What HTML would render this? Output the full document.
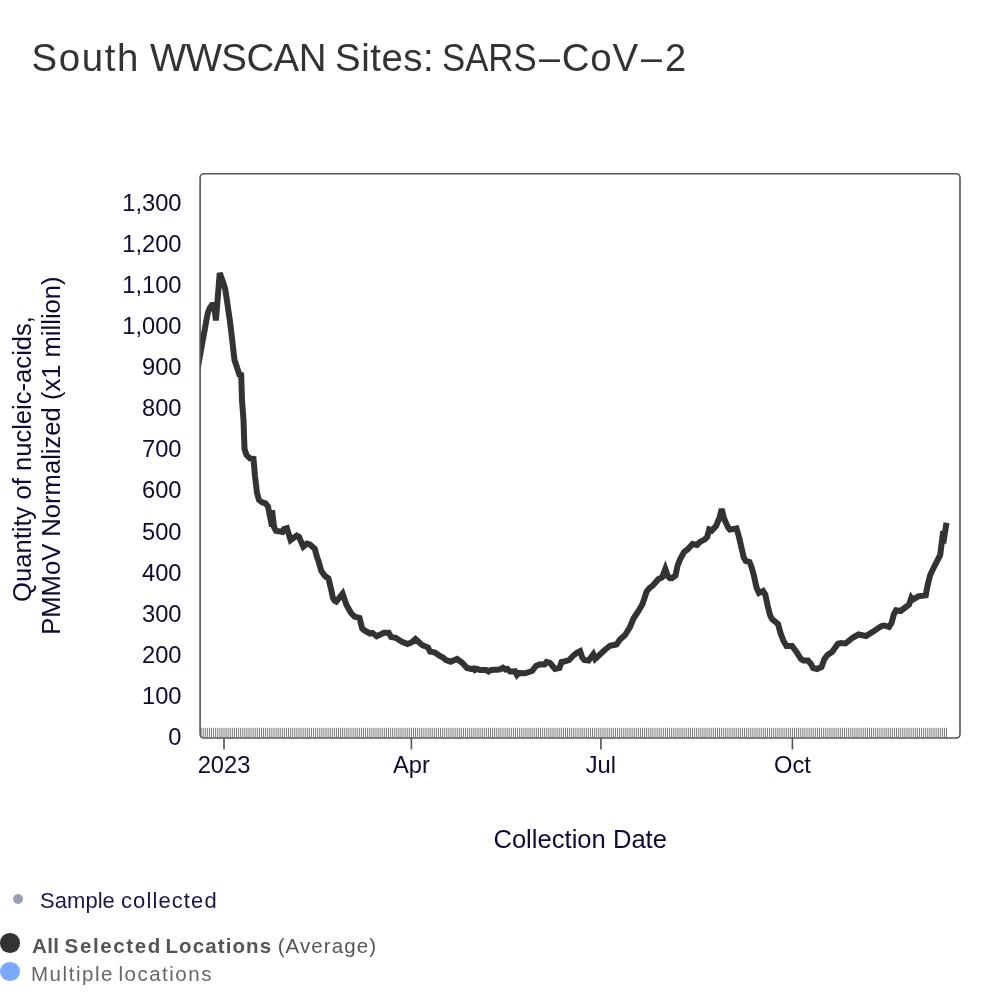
<!DOCTYPE html>
<html lang="en">
<head>
<meta charset="utf-8">
<title>South WWSCAN Sites: SARS–CoV–2</title>
<style>
html,body{margin:0;padding:0;background:#fff;}
body{width:1000px;height:1002px;position:relative;overflow:hidden;font-family:"Liberation Sans",sans-serif;}
h1{position:absolute;left:0;top:36.4px;margin:0;font-weight:400;font-size:38.4px;line-height:44px;color:#333;white-space:nowrap;width:1000px;height:44px;}
h1 span{position:absolute;top:0;transform-origin:0 50%;display:block;}
svg{position:absolute;left:0;top:0;}
svg text{font-family:"Liberation Sans",sans-serif;fill:#0f0b33;}
.lbl text{font-size:23.7px;}
.ttl text{font-size:25.6px;}
.legend{position:absolute;left:0;top:0;width:1000px;}
.row{position:absolute;white-space:nowrap;}
.dot{position:absolute;border-radius:50%;}
.w{position:absolute;top:0;}
</style>
</head>
<body>
<h1><span style="left:31.5px;letter-spacing:1.65px;">South</span> <span style="left:150.0px;letter-spacing:-0.55px;">WWSCAN</span> <span style="left:335.0px;letter-spacing:0.55px;">Sites:</span> <span style="left:442.1px;transform:scaleX(0.905);">SARS</span><span style="left:538.8px;transform:scaleX(0.98);">–</span><span style="left:561.7px;letter-spacing:0.9px;">CoV</span><span style="left:641.0px;transform:scaleX(0.98);">–</span><span style="left:665.1px;transform:scaleX(0.99);">2</span></h1>
<svg width="1000" height="1002" viewBox="0 0 1000 1002">
<defs><clipPath id="plotclip"><rect x="200" y="174" width="760" height="564"/></clipPath></defs>
<path d="M201.10,727.8V737.5M203.18,727.8V737.5M205.26,727.8V737.5M207.34,727.8V737.5M209.42,727.8V737.5M211.51,727.8V737.5M213.59,727.8V737.5M215.67,727.8V737.5M217.75,727.8V737.5M219.84,727.8V737.5M221.92,727.8V737.5M224.00,727.8V737.5M226.08,727.8V737.5M228.16,727.8V737.5M230.25,727.8V737.5M232.33,727.8V737.5M234.41,727.8V737.5M236.49,727.8V737.5M238.58,727.8V737.5M240.66,727.8V737.5M242.74,727.8V737.5M244.82,727.8V737.5M246.90,727.8V737.5M248.99,727.8V737.5M251.07,727.8V737.5M253.15,727.8V737.5M255.23,727.8V737.5M257.32,727.8V737.5M259.40,727.8V737.5M261.48,727.8V737.5M263.56,727.8V737.5M265.64,727.8V737.5M267.73,727.8V737.5M269.81,727.8V737.5M271.89,727.8V737.5M273.97,727.8V737.5M276.05,727.8V737.5M278.14,727.8V737.5M280.22,727.8V737.5M282.30,727.8V737.5M284.38,727.8V737.5M286.47,727.8V737.5M288.55,727.8V737.5M290.63,727.8V737.5M292.71,727.8V737.5M294.79,727.8V737.5M296.88,727.8V737.5M298.96,727.8V737.5M301.04,727.8V737.5M303.12,727.8V737.5M305.21,727.8V737.5M307.29,727.8V737.5M309.37,727.8V737.5M311.45,727.8V737.5M313.53,727.8V737.5M315.62,727.8V737.5M317.70,727.8V737.5M319.78,727.8V737.5M321.86,727.8V737.5M323.95,727.8V737.5M326.03,727.8V737.5M328.11,727.8V737.5M330.19,727.8V737.5M332.27,727.8V737.5M334.36,727.8V737.5M336.44,727.8V737.5M338.52,727.8V737.5M340.60,727.8V737.5M342.68,727.8V737.5M344.77,727.8V737.5M346.85,727.8V737.5M348.93,727.8V737.5M351.01,727.8V737.5M353.10,727.8V737.5M355.18,727.8V737.5M357.26,727.8V737.5M359.34,727.8V737.5M361.42,727.8V737.5M363.51,727.8V737.5M365.59,727.8V737.5M367.67,727.8V737.5M369.75,727.8V737.5M371.84,727.8V737.5M373.92,727.8V737.5M376.00,727.8V737.5M378.08,727.8V737.5M380.16,727.8V737.5M382.25,727.8V737.5M384.33,727.8V737.5M386.41,727.8V737.5M388.49,727.8V737.5M390.58,727.8V737.5M392.66,727.8V737.5M394.74,727.8V737.5M396.82,727.8V737.5M398.90,727.8V737.5M400.99,727.8V737.5M403.07,727.8V737.5M405.15,727.8V737.5M407.23,727.8V737.5M409.32,727.8V737.5M411.40,727.8V737.5M413.48,727.8V737.5M415.56,727.8V737.5M417.64,727.8V737.5M419.73,727.8V737.5M421.81,727.8V737.5M423.89,727.8V737.5M425.97,727.8V737.5M428.05,727.8V737.5M430.14,727.8V737.5M432.22,727.8V737.5M434.30,727.8V737.5M436.38,727.8V737.5M438.47,727.8V737.5M440.55,727.8V737.5M442.63,727.8V737.5M444.71,727.8V737.5M446.79,727.8V737.5M448.88,727.8V737.5M450.96,727.8V737.5M453.04,727.8V737.5M455.12,727.8V737.5M457.21,727.8V737.5M459.29,727.8V737.5M461.37,727.8V737.5M463.45,727.8V737.5M465.53,727.8V737.5M467.62,727.8V737.5M469.70,727.8V737.5M471.78,727.8V737.5M473.86,727.8V737.5M475.95,727.8V737.5M478.03,727.8V737.5M480.11,727.8V737.5M482.19,727.8V737.5M484.27,727.8V737.5M486.36,727.8V737.5M488.44,727.8V737.5M490.52,727.8V737.5M492.60,727.8V737.5M494.68,727.8V737.5M496.77,727.8V737.5M498.85,727.8V737.5M500.93,727.8V737.5M503.01,727.8V737.5M505.10,727.8V737.5M507.18,727.8V737.5M509.26,727.8V737.5M511.34,727.8V737.5M513.42,727.8V737.5M515.51,727.8V737.5M517.59,727.8V737.5M519.67,727.8V737.5M521.75,727.8V737.5M523.84,727.8V737.5M525.92,727.8V737.5M528.00,727.8V737.5M530.08,727.8V737.5M532.16,727.8V737.5M534.25,727.8V737.5M536.33,727.8V737.5M538.41,727.8V737.5M540.49,727.8V737.5M542.58,727.8V737.5M544.66,727.8V737.5M546.74,727.8V737.5M548.82,727.8V737.5M550.90,727.8V737.5M552.99,727.8V737.5M555.07,727.8V737.5M557.15,727.8V737.5M559.23,727.8V737.5M561.32,727.8V737.5M563.40,727.8V737.5M565.48,727.8V737.5M567.56,727.8V737.5M569.64,727.8V737.5M571.73,727.8V737.5M573.81,727.8V737.5M575.89,727.8V737.5M577.97,727.8V737.5M580.05,727.8V737.5M582.14,727.8V737.5M584.22,727.8V737.5M586.30,727.8V737.5M588.38,727.8V737.5M590.47,727.8V737.5M592.55,727.8V737.5M594.63,727.8V737.5M596.71,727.8V737.5M598.79,727.8V737.5M600.88,727.8V737.5M602.96,727.8V737.5M605.04,727.8V737.5M607.12,727.8V737.5M609.21,727.8V737.5M611.29,727.8V737.5M613.37,727.8V737.5M615.45,727.8V737.5M617.53,727.8V737.5M619.62,727.8V737.5M621.70,727.8V737.5M623.78,727.8V737.5M625.86,727.8V737.5M627.95,727.8V737.5M630.03,727.8V737.5M632.11,727.8V737.5M634.19,727.8V737.5M636.27,727.8V737.5M638.36,727.8V737.5M640.44,727.8V737.5M642.52,727.8V737.5M644.60,727.8V737.5M646.68,727.8V737.5M648.77,727.8V737.5M650.85,727.8V737.5M652.93,727.8V737.5M655.01,727.8V737.5M657.10,727.8V737.5M659.18,727.8V737.5M661.26,727.8V737.5M663.34,727.8V737.5M665.42,727.8V737.5M667.51,727.8V737.5M669.59,727.8V737.5M671.67,727.8V737.5M673.75,727.8V737.5M675.84,727.8V737.5M677.92,727.8V737.5M680.00,727.8V737.5M682.08,727.8V737.5M684.16,727.8V737.5M686.25,727.8V737.5M688.33,727.8V737.5M690.41,727.8V737.5M692.49,727.8V737.5M694.58,727.8V737.5M696.66,727.8V737.5M698.74,727.8V737.5M700.82,727.8V737.5M702.90,727.8V737.5M704.99,727.8V737.5M707.07,727.8V737.5M709.15,727.8V737.5M711.23,727.8V737.5M713.32,727.8V737.5M715.40,727.8V737.5M717.48,727.8V737.5M719.56,727.8V737.5M721.64,727.8V737.5M723.73,727.8V737.5M725.81,727.8V737.5M727.89,727.8V737.5M729.97,727.8V737.5M732.05,727.8V737.5M734.14,727.8V737.5M736.22,727.8V737.5M738.30,727.8V737.5M740.38,727.8V737.5M742.47,727.8V737.5M744.55,727.8V737.5M746.63,727.8V737.5M748.71,727.8V737.5M750.79,727.8V737.5M752.88,727.8V737.5M754.96,727.8V737.5M757.04,727.8V737.5M759.12,727.8V737.5M761.21,727.8V737.5M763.29,727.8V737.5M765.37,727.8V737.5M767.45,727.8V737.5M769.53,727.8V737.5M771.62,727.8V737.5M773.70,727.8V737.5M775.78,727.8V737.5M777.86,727.8V737.5M779.95,727.8V737.5M782.03,727.8V737.5M784.11,727.8V737.5M786.19,727.8V737.5M788.27,727.8V737.5M790.36,727.8V737.5M792.44,727.8V737.5M794.52,727.8V737.5M796.60,727.8V737.5M798.68,727.8V737.5M800.77,727.8V737.5M802.85,727.8V737.5M804.93,727.8V737.5M807.01,727.8V737.5M809.10,727.8V737.5M811.18,727.8V737.5M813.26,727.8V737.5M815.34,727.8V737.5M817.42,727.8V737.5M819.51,727.8V737.5M821.59,727.8V737.5M823.67,727.8V737.5M825.75,727.8V737.5M827.84,727.8V737.5M829.92,727.8V737.5M832.00,727.8V737.5M834.08,727.8V737.5M836.16,727.8V737.5M838.25,727.8V737.5M840.33,727.8V737.5M842.41,727.8V737.5M844.49,727.8V737.5M846.58,727.8V737.5M848.66,727.8V737.5M850.74,727.8V737.5M852.82,727.8V737.5M854.90,727.8V737.5M856.99,727.8V737.5M859.07,727.8V737.5M861.15,727.8V737.5M863.23,727.8V737.5M865.32,727.8V737.5M867.40,727.8V737.5M869.48,727.8V737.5M871.56,727.8V737.5M873.64,727.8V737.5M875.73,727.8V737.5M877.81,727.8V737.5M879.89,727.8V737.5M881.97,727.8V737.5M884.05,727.8V737.5M886.14,727.8V737.5M888.22,727.8V737.5M890.30,727.8V737.5M892.38,727.8V737.5M894.47,727.8V737.5M896.55,727.8V737.5M898.63,727.8V737.5M900.71,727.8V737.5M902.79,727.8V737.5M904.88,727.8V737.5M906.96,727.8V737.5M909.04,727.8V737.5M911.12,727.8V737.5M913.21,727.8V737.5M915.29,727.8V737.5M917.37,727.8V737.5M919.45,727.8V737.5M921.53,727.8V737.5M923.62,727.8V737.5M925.70,727.8V737.5M927.78,727.8V737.5M929.86,727.8V737.5M931.95,727.8V737.5M934.03,727.8V737.5M936.11,727.8V737.5M938.19,727.8V737.5M940.27,727.8V737.5M942.36,727.8V737.5M944.44,727.8V737.5M946.52,727.8V737.5" stroke="#555" stroke-width="0.8" fill="none"/>
<g clip-path="url(#plotclip)"><path d="M196.5,376 L200,355.5 L202.8,340 L204.5,331 L206.1,322 L207.8,313 L209.8,308 L212,305 L214.2,304.9 L215.9,320.4 L219.75,273 L224,285 L225.4,290 L229.8,320 L232.2,340 L234.5,360 L237.5,369 L239.3,374.5 L241.2,375 L242,400 L243.5,420 L244,435 L244.5,449 L246.5,455 L250,458.5 L253.5,459 L255,476 L257,493 L259,500 L262.5,502.5 L265.5,503.3 L268,506.5 L272,526.3 L272.1,510.3 L274,527 L276,530.8 L282.5,532 L284,529 L286.9,528.2 L290.6,540.1 L296.7,535.5 L299,536.8 L303.25,546.6 L307,543.6 L309.75,544.4 L314.75,548.75 L317,557 L318.3,560.5 L321.3,571 L325,576 L328.5,578.5 L331.5,591 L332.8,597.5 L334.3,600.3 L336.3,601.6 L342.6,593.6 L346.5,605 L351,613 L354.5,616.5 L359.5,618 L362.2,628.5 L364.5,630.5 L370,633.5 L372.5,633 L376.7,636.3 L384,632.8 L388.7,632.8 L391.2,637 L395.7,637.8 L401.5,641.5 L407.5,644 L411.5,642.5 L415.5,639 L422,645 L428,647.5 L430,651.5 L435,652.5 L439,655.5 L443,657.5 L446,660 L450.7,661.7 L457,659 L462.5,663 L467,668 L471,669 L474,668.5 L475,670 L477.5,669 L480,670 L486,670 L488.5,671.5 L491,670 L499.5,669.5 L503,667.7 L505.5,669.5 L507.5,669 L510,671.5 L514,671.5 L515,671.3 L517,675 L519,673 L525,673.3 L532,671 L536,666 L540,664.3 L544.5,664.5 L546.5,662 L550,663 L555,669 L559.5,668 L561.5,662 L564,661.5 L569,660 L574,655 L577.5,652.3 L580.1,651.1 L582.2,657.5 L584.3,659.9 L588.6,660.6 L593.3,654.2 L595.2,658.8 L598.3,656 L605,649.7 L610,645.7 L616.5,644.5 L620,639.5 L625,635 L630,627 L633.5,618.5 L638.5,611 L642.5,604 L646.5,592 L649,588.5 L653,585.3 L658.5,579 L662,577.5 L665.3,568.9 L668,576.5 L670,578.2 L672.2,578 L675.5,575.5 L677.5,566 L680,559.5 L684,552 L687.5,549.5 L692.5,544 L697,545 L700,542 L704.5,539.5 L707.15,537.1 L709.25,529.4 L712,530.4 L716.2,525.9 L719.5,517.6 L721.75,508.9 L723.85,518 L726,523 L728.25,527.65 L729.75,529.6 L736.5,528.5 L739,537 L742,550 L743.7,557.5 L745.7,561 L749.5,562 L751.5,567 L754,576 L756.5,587.5 L759,593 L763,591 L765.3,594.7 L767.5,605 L770,615 L772,619 L778,624 L780.5,633 L783.5,641 L786.5,646 L792,646 L796.5,652 L801,659 L803.5,660.5 L808,660.5 L811,664 L813,668 L817,669 L821.5,667 L824.5,659 L827.5,655 L832,652 L838,643.7 L841,643 L845.5,643.5 L853,637.5 L858.5,634.5 L866,636 L874,631 L881.5,626 L884.5,625.5 L889,627 L891.5,623 L894,614 L896,610.3 L900.6,611 L909,604.6 L911.25,598.15 L912.4,599.9 L918.25,596.4 L925.75,595.25 L927.7,585 L930.2,575 L934.5,566 L940.2,555 L943.2,531.2 L943.3,543.2 L946.5,522.7" fill="none" stroke="#333" stroke-width="6" stroke-linejoin="miter" stroke-miterlimit="4" stroke-linecap="butt"/></g>
<rect x="200.1" y="173.8" width="759.9" height="564.2" rx="3.8" ry="3.8" fill="none" stroke="#555" stroke-width="1.6"/>
<path d="M224.0,738V749.5M411.4,738V749.5M600.9,738V749.5M792.4,738V749.5" stroke="#555" stroke-width="1.6" fill="none"/>
<g class="lbl"><text x="181.5" y="744.95" text-anchor="end">0</text><text x="181.5" y="703.87" text-anchor="end">100</text><text x="181.5" y="662.79" text-anchor="end">200</text><text x="181.5" y="621.71" text-anchor="end">300</text><text x="181.5" y="580.63" text-anchor="end">400</text><text x="181.5" y="539.55" text-anchor="end">500</text><text x="181.5" y="498.47" text-anchor="end">600</text><text x="181.5" y="457.39" text-anchor="end">700</text><text x="181.5" y="416.31" text-anchor="end">800</text><text x="181.5" y="375.23" text-anchor="end">900</text><text x="181.5" y="334.15" text-anchor="end">1,000</text><text x="181.5" y="293.07" text-anchor="end">1,100</text><text x="181.5" y="251.99" text-anchor="end">1,200</text><text x="181.5" y="210.91" text-anchor="end">1,300</text><text x="224.0" y="773" text-anchor="middle">2023</text><text x="411.4" y="773" text-anchor="middle">Apr</text><text x="600.9" y="773" text-anchor="middle">Jul</text><text x="792.4" y="773" text-anchor="middle">Oct</text></g>
<g class="ttl">
<text x="580.2" y="847.6" text-anchor="middle">Collection Date</text>
<text transform="translate(31,459) rotate(-90)" text-anchor="middle">Quantity of nucleic-acids,</text>
<text transform="translate(60,455.6) rotate(-90)" text-anchor="middle">PMMoV Normalized (x1 million)</text>
</g>
</svg>
<div class="legend">
<span class="dot" style="left:13px;top:894px;width:10px;height:10px;background:#9a9eb0;"></span>
<div class="row" style="left:0;top:886.6px;font-size:22px;line-height:28px;color:#1b1746;"><span class="w" style="left:40.0px;letter-spacing:0.05px;">Sample</span> <span class="w" style="left:121.0px;letter-spacing:1.1px;">collected</span></div>
<span class="dot" style="left:0.3px;top:933.3px;width:19.4px;height:19.4px;background:#333;"></span>
<div class="row" style="left:0;top:931.5px;font-size:20.5px;line-height:28px;color:#555;"><b class="w" style="left:32.0px;letter-spacing:0.35px;">All</b> <b class="w" style="left:64.6px;letter-spacing:1.62px;">Selected</b> <b class="w" style="left:165.5px;letter-spacing:1.1px;">Locations</b> <span class="w" style="left:277.7px;letter-spacing:1.1px;">(Average)</span></div>
<span class="dot" style="left:0.3px;top:961.8px;width:19.4px;height:19.4px;background:#7ca8ff;"></span>
<div class="row" style="left:0;top:959.5px;font-size:20.5px;line-height:28px;color:#666;"><span class="w" style="left:31.0px;letter-spacing:1.54px;">Multiple</span> <span class="w" style="left:118.5px;letter-spacing:1.5px;">locations</span></div>
</div>
</body>
</html>
